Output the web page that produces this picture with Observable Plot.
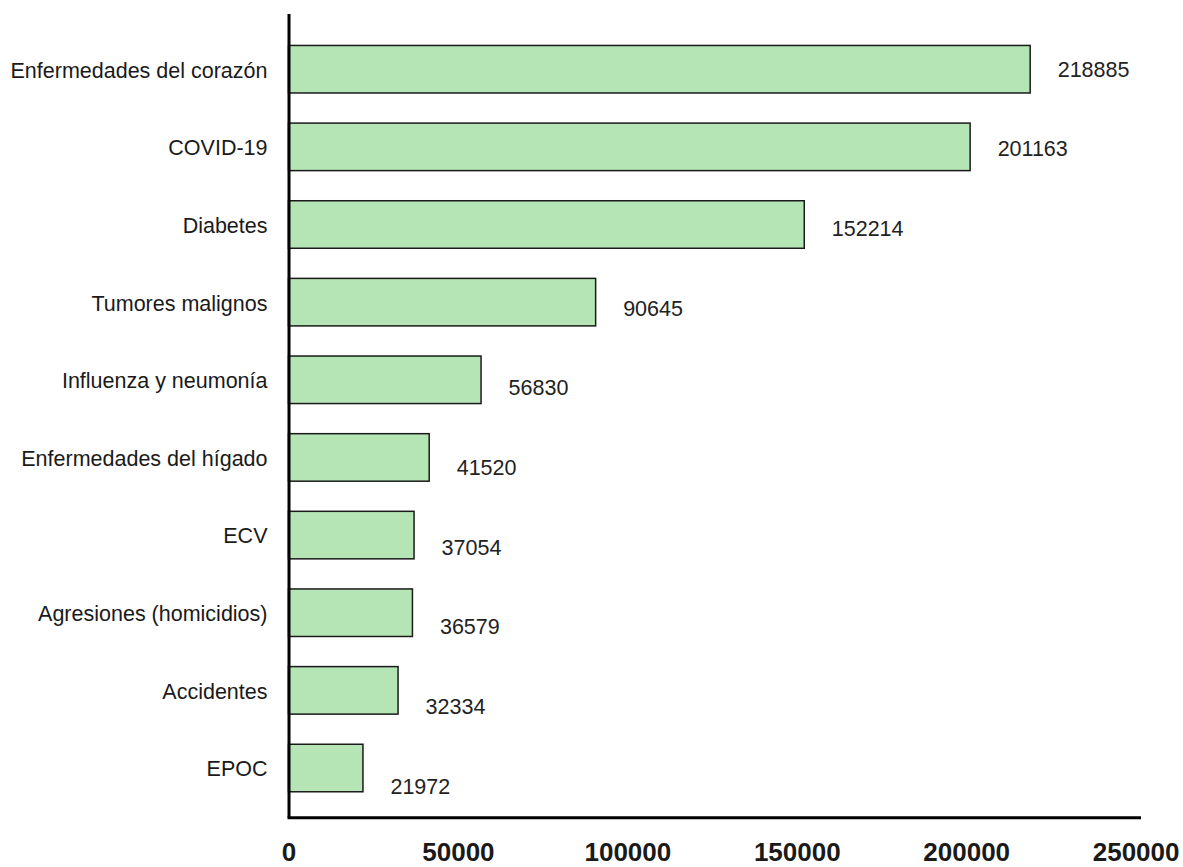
<!DOCTYPE html>
<html>
<head>
<meta charset="utf-8">
<script src="https://cdn.jsdelivr.net/npm/d3@7"></script>
<script src="https://cdn.jsdelivr.net/npm/@observablehq/plot@0.6"></script>
<style>
  html, body { margin: 0; padding: 0; background: #fff; }
</style>
</head>
<body>
<div id="chart"></div>
<script>
// Leading causes of death, number of deaths
const causes = [
  "Enfermedades del corazón",
  "COVID-19",
  "Diabetes",
  "Tumores malignos",
  "Influenza y neumonía",
  "Enfermedades del hígado",
  "ECV",
  "Agresiones (homicidios)",
  "Accidentes",
  "EPOC"
];
const deaths = [218885, 201163, 152214, 90645, 56830, 41520, 37054, 36579, 32334, 21972];
const xTicks = [0, 50000, 100000, 150000, 200000, 250000];

const rows = causes.map((cause, i) => ({cause, deaths: deaths[i]}));

// The value labels follow a slightly taller row pitch than the bars,
// so each one drifts a little further below its bar.
const labelPitch = 1.026;
function driftLabels(index, scales, values, dimensions, context, next) {
  const Y = values.y;
  const top = d3.min(index, i => Y[i]);
  const shifted = Float64Array.from(Y, y => y + (y - top) * (labelPitch - 1));
  return next(index, scales, {...values, y: shifted}, dimensions, context);
}

const chart = Plot.plot({
  width: 1183,
  height: 867,
  marginTop: 14,
  marginBottom: 49.7,
  marginLeft: 288.5,
  marginRight: 44,
  style: {
    fontFamily: "'Liberation Sans', Arial, sans-serif",
    background: "#fff",
    color: "#1a1a1a"
  },
  x: {domain: [0, 251000], label: null},
  y: {
    domain: causes,
    paddingInner: 0.388,
    paddingOuter: 0.367,
    align: 0.552,
    round: false,
    label: null
  },
  marks: [
    Plot.barX(rows, {
      x: "deaths",
      y: "cause",
      fill: "#b5e5b5",
      stroke: "#1a1a1a",
      strokeWidth: 1.5
    }),
    Plot.text(rows, {
      x: "deaths",
      y: "cause",
      text: d => String(d.deaths),
      textAnchor: "start",
      dx: 27,
      fontSize: 21.5,
      fill: "#222",
      render: driftLabels
    }),
    Plot.axisY({tickSize: 0, tickPadding: 21.5, fontSize: 21.5, dy: 1, label: null}),
    Plot.axisX({
      ticks: xTicks,
      tickSize: 0,
      tickPadding: 25,
      fontSize: 26,
      fontWeight: "bold",
      tickFormat: d3.format("d"),
      label: null
    }),
    Plot.ruleX([0], {stroke: "#000", strokeWidth: 3}),
    Plot.frame({anchor: "bottom", stroke: "#000", strokeWidth: 3})
  ]
});

document.getElementById("chart").appendChild(chart);
</script>
</body>
</html>
